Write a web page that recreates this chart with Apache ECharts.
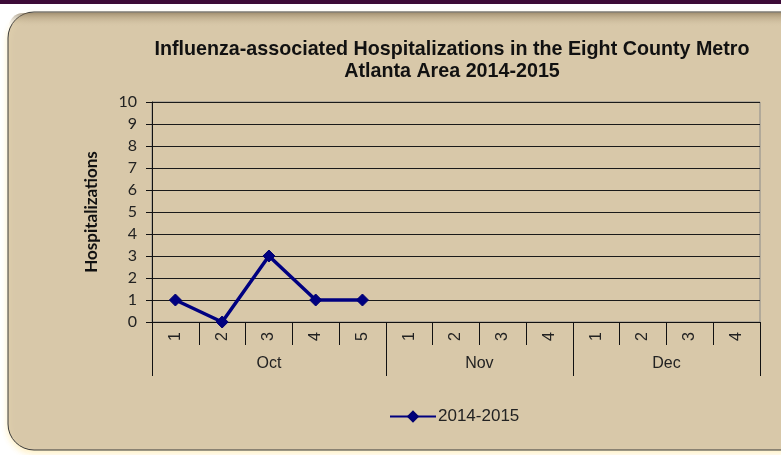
<!DOCTYPE html>
<html>
<head>
<meta charset="utf-8">
<script src="https://cdn.jsdelivr.net/npm/echarts@6/dist/echarts.min.js"></script>
<style>
html,body{margin:0;padding:0;background:#ffffff;}
#chart{width:781px;height:455px;}
</style>
</head>
<body>
<div id="chart"></div>
<script>
// ---- data ----
const months = ['Oct', 'Nov', 'Dec'];
const weeksPerMonth = [5, 4, 4];
const weekLabels = ['1','2','3','4','5','1','2','3','4','1','2','3','4'];
const seriesName = '2014-2015';
const hospitalizations = [1, 0, 3, 1, 1, null, null, null, null, null, null, null, null];
const yTicks = [0,1,2,3,4,5,6,7,8,9,10];

// ---- derived helpers for the month-group axis (half-week slots) ----
const totalWeeks = weekLabels.length;
const halfSlots = totalWeeks * 2;
const groupData = [];
for (let i = 0; i <= halfSlots; i++) groupData.push('');
const groupBoundaries = [0];
const groupCenters = {};
let acc = 0;
weeksPerMonth.forEach((w, k) => {
  groupCenters[acc * 2 + w] = months[k];
  acc += w;
  groupBoundaries.push(acc * 2);
});
Object.keys(groupCenters).forEach(k => { groupData[+k] = groupCenters[k]; });

const chart = echarts.init(document.getElementById('chart'), null, {renderer: 'canvas'});
const option = {
  backgroundColor: '#ffffff',
  animation: false,
  graphic: [
    {type: 'rect', shape: {x: 0, y: 0, width: 781, height: 4}, style: {fill: '#3d0b38'}, z: -10, silent: true},
    {type: 'rect', shape: {x: 8, y: 12, width: 800, height: 438, r: 26},
     style: {fill: '#d8c8a9', stroke: '#3a3a3a', lineWidth: 1,
       shadowColor: 'rgba(255,240,190,0.9)', shadowBlur: 6, shadowOffsetY: 3}, z: -9, silent: true},
    {type: 'rect', shape: {x: 9, y: 13, width: 800, height: 14, r: [25, 25, 0, 0]},
     style: {fill: new echarts.graphic.LinearGradient(0, 0, 0, 1, [
       {offset: 0, color: 'rgba(120,100,70,0.55)'}, {offset: 1, color: 'rgba(216,200,169,0)'}])},
     z: -8, silent: true}
  ],
  title: {
    text: 'Influenza-associated Hospitalizations in the Eight County Metro\nAtlanta Area 2014-2015',
    left: 447, top: 34, textAlign: 'center',
    textStyle: {fontFamily: 'Liberation Sans, Arial, sans-serif', fontWeight: 'bold', fontSize: 19.7, color: '#111', lineHeight: 22}
  },
  legend: {
    data: [seriesName],
    left: 384, top: 403,
    itemWidth: 46, itemHeight: 12, itemGap: 4,
    textStyle: {fontFamily: 'Liberation Sans, Arial, sans-serif', fontSize: 17, color: '#222', padding: [0,0,0,-3]}
  },
  grid: {left: 152, top: 102, right: 21, bottom: 133, show: true, borderColor: '#8a8a8a', borderWidth: 1, backgroundColor: 'transparent'},
  xAxis: [
    {
      type: 'category', data: weekLabels, boundaryGap: true,
      axisLine: {show: true, lineStyle: {color: '#111', width: 1}},
      axisTick: {show: true, length: 23, lineStyle: {color: '#111'}},
      axisLabel: {rotate: 90, margin: 10, fontFamily: 'Liberation Sans, Arial, sans-serif', fontSize: 16, color: '#222', interval: 0},
      splitLine: {show: false}
    },
    {
      type: 'category', data: groupData, boundaryGap: false, position: 'bottom',
      axisLine: {show: false},
      axisTick: {show: true, length: 54, lineStyle: {color: '#111'},
        interval: (i) => groupBoundaries.indexOf(i) >= 0},
      axisLabel: {show: true, margin: 34, fontFamily: 'Liberation Sans, Arial, sans-serif', fontSize: 16, color: '#222',
        interval: (i) => groupCenters[i] !== undefined},
      splitLine: {show: false}
    }
  ],
  yAxis: {
    type: 'value', min: yTicks[0], max: yTicks[yTicks.length - 1], interval: 1,
    name: 'Hospitalizations', nameLocation: 'middle', nameGap: 52, nameRotate: 90,
    nameTextStyle: {fontFamily: 'Lato, sans-serif', fontWeight: 'bold', fontSize: 17, color: '#111'},
    axisLine: {show: true, lineStyle: {color: '#111'}},
    axisTick: {show: true, length: 6, lineStyle: {color: '#111'}},
    axisLabel: {margin: 15, fontFamily: 'Lato, sans-serif', fontSize: 16, color: '#222'},
    splitLine: {show: true, lineStyle: {color: '#1a1a1a', width: 1}}
  },
  series: [{
    name: seriesName, type: 'line', xAxisIndex: 0, data: hospitalizations,
    symbol: 'diamond', symbolSize: 12, connectNulls: false,
    lineStyle: {color: '#000080', width: 3.5},
    itemStyle: {color: '#000080', borderColor: '#000070', borderWidth: 1}
  }]
};
chart.setOption(option);
</script>
</body>
</html>
